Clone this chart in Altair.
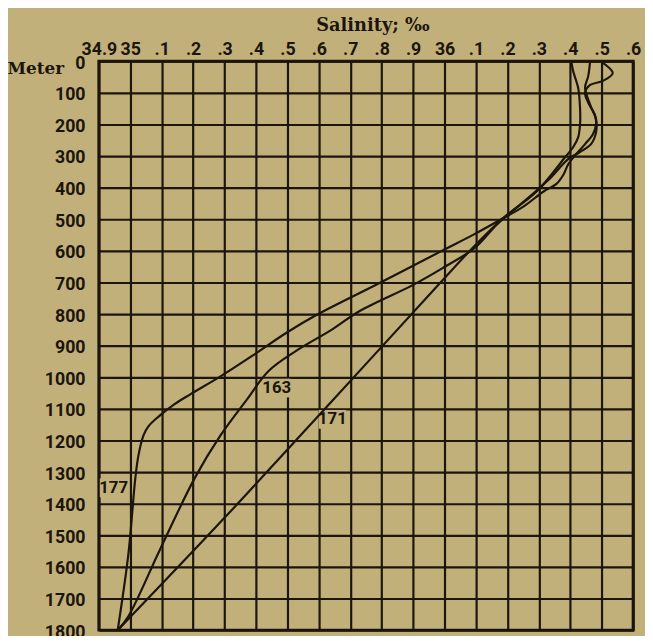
import altair as alt
import pandas as pd

# ---- data ----
x_ticks = [34.9, 35.0, 35.1, 35.2, 35.3, 35.4, 35.5, 35.6, 35.7, 35.8, 35.9,
           36.0, 36.1, 36.2, 36.3, 36.4, 36.5, 36.6]
x_tick_labels = ['34.9', '35', '.1', '.2', '.3', '.4', '.5', '.6', '.7', '.8', '.9',
                 '36', '.1', '.2', '.3', '.4', '.5', '.6']
y_ticks = [0, 100, 200, 300, 400, 500, 600, 700, 800, 900, 1000, 1100, 1200,
           1300, 1400, 1500, 1600, 1700, 1800]

# station 177
s177_sal = [36.497, 36.535, 36.504, 36.463, 36.447, 36.457, 36.479, 36.482, 36.472,
            36.447, 36.416, 36.394, 36.378, 36.356, 36.315, 36.252, 36.180, 36.095,
            35.991, 35.790, 35.592, 35.497, 35.394, 35.287, 35.192, 35.142, 35.089,
            35.057, 35.042, 35.026, 35.016, 34.994, 34.960]
s177_dep = [0, 37, 62, 75, 100, 131, 172, 200, 231, 262, 297, 325, 359, 388, 412,
            459, 500, 547, 600, 703, 803, 859, 928, 997, 1053, 1084, 1125, 1156,
            1184, 1247, 1319, 1559, 1800]

# station 163
s163_sal = [36.463, 36.457, 36.447, 36.463, 36.482, 36.482, 36.466, 36.431, 36.394,
            36.331, 36.252, 36.167, 36.095, 35.991, 35.897, 35.730, 35.640,
            35.530, 35.440, 35.372, 35.287, 35.205, 35.095, 34.994, 34.960]
s163_dep = [0, 47, 84, 137, 184, 225, 262, 287, 309, 375, 444, 516, 591, 656, 709,
            790, 850, 915, 980, 1069, 1184, 1319, 1544, 1756, 1800]

# station 171
s171_sal = [36.403, 36.409, 36.425, 36.431, 36.431, 36.425, 36.409, 36.384, 36.293,
            36.189, 36.086, 35.987, 35.642, 35.290, 34.960]
s171_dep = [0, 31, 84, 147, 200, 241, 272, 303, 412, 494, 594, 700, 1075, 1455, 1800]

label_text = ['177', '163', '171']
label_sal = [34.947, 35.466, 35.643]
label_dep = [1350, 1034, 1133]

# ---- build tables ----
rows = []
for name, sal, dep in [('177', s177_sal, s177_dep), ('163', s163_sal, s163_dep),
                       ('171', s171_sal, s171_dep)]:
    for i, (s, d) in enumerate(zip(sal, dep)):
        rows.append({'station': name, 'i': i, 'sal': s, 'dep': d})
curves = pd.DataFrame(rows)
labels = pd.DataFrame({'text': label_text, 'sal': label_sal, 'dep': label_dep})

PAPER = '#c2b07b'
INK = '#1c150c'
NUM_FONT = 'Roboto, Liberation Sans, sans-serif'
SERIF = 'DejaVu Serif, Liberation Serif, serif'

arr = '[' + ','.join("'%s'" % t for t in x_tick_labels) + ']'

x_enc = alt.X('sal:Q',
              scale=alt.Scale(domain=[34.9, 36.6], nice=False, zero=False),
              axis=alt.Axis(orient='top', values=x_ticks,
                            labelExpr=arr + '[round((datum.value-34.9)*10)]',
                            ticks=False, domain=False, grid=True,
                            gridColor=INK, gridWidth=2.2, gridOpacity=1,
                            labelFont=NUM_FONT, labelFontSize=18, labelFontWeight='bold',
                            labelColor=INK, labelPadding=3, labelFlush=False,
                            labelOverlap=False,
                            title='Salinity; ‰', titleFont=SERIF, titleFontSize=18,
                            titleFontWeight='bold', titleColor=INK,
                            titleAnchor='start', titleAlign='center',
                            titleX=277, titleY=-31, titleBaseline='alphabetic'))
y_enc = alt.Y('dep:Q',
              scale=alt.Scale(domain=[0, 1800], reverse=True, nice=False),
              axis=alt.Axis(values=y_ticks, format='d', ticks=False, domain=False,
                            grid=True, gridColor=INK, gridWidth=2.2, gridOpacity=1,
                            labelFont=NUM_FONT, labelFontSize=18, labelFontWeight='bold',
                            labelColor=INK, labelPadding=14, labelOffset=2,
                            labelFlush=False, labelOverlap=False,
                            title='Meter', titleFont=SERIF, titleFontSize=17,
                            titleFontWeight='bold', titleColor=INK, titleAngle=0,
                            titleAlign='left', titleBaseline='alphabetic',
                            titleX=-93, titleY=12))

lines = alt.Chart(curves).mark_line(color=INK, strokeWidth=2.2,
                                    interpolate='catmull-rom').encode(
    x=x_enc, y=y_enc, detail='station:N', order='i:Q')

boxes = alt.Chart(labels).mark_rect(color=PAPER, width=28, height=19).encode(
    x=x_enc, y=y_enc)

texts = alt.Chart(labels).mark_text(font=NUM_FONT, fontSize=17, fontWeight='bold',
                                    color=INK, baseline='middle', align='center').encode(
    x=x_enc, y=y_enc, text='text:N')

chart = alt.layer(boxes, lines, texts).properties(
    width=541, height=576,
    autosize=alt.AutoSizeParams(type='none'),
    padding={'left': 92, 'top': 50, 'right': 12, 'bottom': 2},
    background=PAPER,
).configure_view(stroke=INK, strokeWidth=3, fill=PAPER)

chart.save('out.html', embed_options={'renderer': 'svg', 'actions': False})
